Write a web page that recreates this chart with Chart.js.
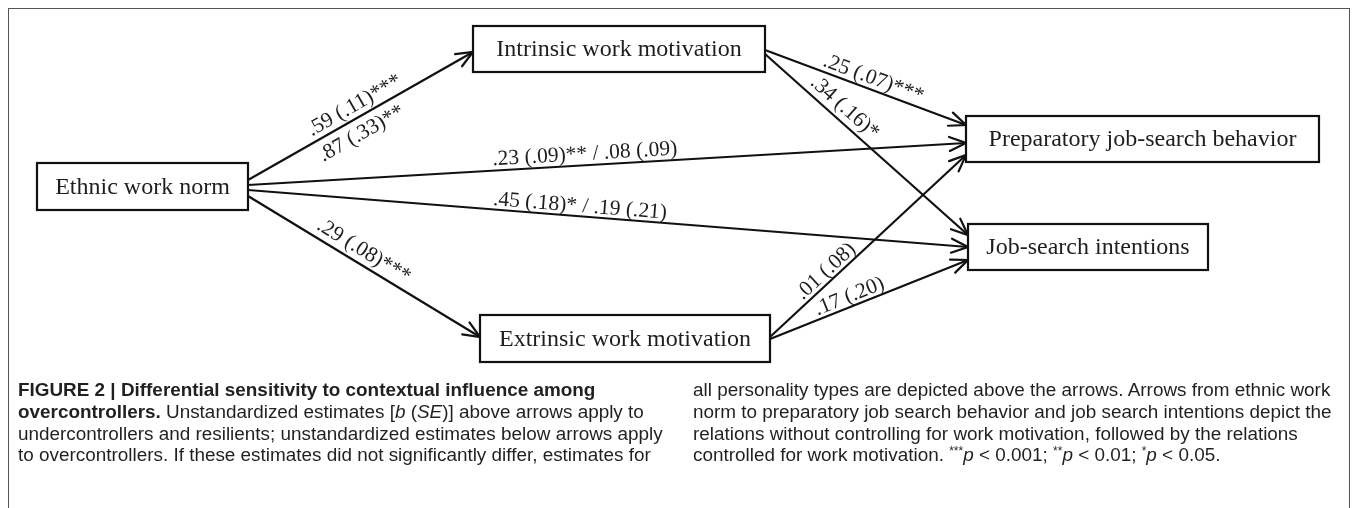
<!DOCTYPE html>
<html>
<head>
<meta charset="utf-8">
<script src="https://cdn.jsdelivr.net/npm/chart.js@4.4.1/dist/chart.umd.min.js"></script>
<style>
 body { margin: 0; background: #fff; }
 #wrap { position: relative; width: 1355px; height: 508px; overflow: hidden; }
 #frame { position: absolute; left: 8px; top: 8px; width: 1340px; height: 520px;
  border: 1.5px solid #555; border-bottom: none; }
 #diagram { position: absolute; left: 0; top: 0; }
 .cap { position: absolute; top: 379px; font-family: "Liberation Sans", Arial, sans-serif;
  font-size: 18.9px; line-height: 21.8px; color: #231f20; white-space: nowrap; }
 .cap b { font-weight: bold; }
 .cap sup { font-size: 12px; vertical-align: 6px; line-height: 0; }
</style>
</head>
<body>
<div id="wrap">
 <div id="frame"></div>
 <canvas id="diagram" width="1355" height="508"></canvas>
 <div class="cap" style="left:18px">
  <b>FIGURE 2 | Differential sensitivity to contextual influence among</b><br>
  <b>overcontrollers.</b> Unstandardized estimates [<i>b</i> (<i>SE</i>)] above arrows apply to<br>
  undercontrollers and resilients; unstandardized estimates below arrows apply<br>
  to overcontrollers. If these estimates did not significantly differ, estimates for
 </div>
 <div class="cap" style="left:693px">
  all personality types are depicted above the arrows. Arrows from ethnic work<br>
  norm to preparatory job search behavior and job search intentions depict the<br>
  relations without controlling for work motivation, followed by the relations<br>
  controlled for work motivation. <sup>***</sup><i>p</i> &lt; 0.001; <sup>**</sup><i>p</i> &lt; 0.01; <sup>*</sup><i>p</i> &lt; 0.05.
 </div>
</div>
<script>
// model: variables and paths
var nodeNames = [
 "Ethnic work norm",
 "Intrinsic work motivation",
 "Extrinsic work motivation",
 "Preparatory job-search behavior",
 "Job-search intentions",
];
var pathFrom = [0, 0, 0, 0, 1, 1, 2, 2];
var pathTo = [1, 3, 4, 2, 3, 4, 3, 4];
// estimates b (SE), above = undercontrollers/resilients, below = overcontrollers
var estAbove = [
 ".59 (.11)***",
 ".23 (.09)** / .08 (.09)",
 ".45 (.18)* / .19 (.21)",
 ".29 (.08)***",
 ".25 (.07)***",
 ".34 (.16)*",
 ".01 (.08)",
 ".17 (.20)",
];
var estBelow = [".87 (.33)**", "", "", "", "", "", "", ""];

// layout (diagram units = pixels of the figure)
var layout = {
 box: [
  [37, 163, 248, 210],
  [473, 26, 765, 72],
  [480, 315, 770, 362],
  [966, 116, 1319, 162],
  [968, 224, 1208, 270],
 ],
 srcY: [180, 185, 190, 196, 50, 54, 337, 339],
 dstY: [52, 143, 247, 337, 125, 235, 155, 260],
 labelT: [0.5, 0.47, 0.46, 0.47, 0.52, 0.35, 0.32, 0.42],
 labelOff: [12, 11, 10, 13, 11, 13, 10, 10],
 belowT: 0.47,
 belowOff: -16,
};

var lineColor = "#111";
var textColor = "#1e1e1e";

function pathPoints(i) {
 var s = layout.box[pathFrom[i]];
 var d = layout.box[pathTo[i]];
 return [
  { x: s[2], y: layout.srcY[i] },
  { x: d[0], y: layout.dstY[i] },
 ];
}

var datasets = pathFrom.map(function (f, i) {
 return {
  label: nodeNames[f] + " -> " + nodeNames[pathTo[i]],
  data: pathPoints(i),
  showLine: true,
  borderColor: lineColor,
  borderWidth: 2.2,
  pointRadius: 0,
  fill: false,
 };
});

function drawLabel(ctx, text, p1, p2, t, off) {
 if (!text) return;
 var a = Math.atan2(p2.y - p1.y, p2.x - p1.x);
 var mx = p1.x + (p2.x - p1.x) * t + Math.sin(a) * off;
 var my = p1.y + (p2.y - p1.y) * t - Math.cos(a) * off;
 ctx.save();
 ctx.translate(mx, my);
 ctx.rotate(a);
 ctx.fillText(text, 0, 0);
 ctx.restore();
}

var diagramPlugin = {
 id: "diagram",
 afterDatasetsDraw: function (chart) {
  var ctx = chart.ctx;
  var xs = chart.scales.x;
  var ys = chart.scales.y;

  // arrow heads
  ctx.save();
  ctx.strokeStyle = lineColor;
  ctx.lineWidth = 2.2;
  ctx.lineCap = "round";
  chart.data.datasets.forEach(function (ds, i) {
   var pts = chart.getDatasetMeta(i).data;
   var p1 = pts[0], p2 = pts[1];
   var a = Math.atan2(p2.y - p1.y, p2.x - p1.x);
   var len = 18, spread = 0.4;
   ctx.beginPath();
   ctx.moveTo(p2.x - len * Math.cos(a - spread), p2.y - len * Math.sin(a - spread));
   ctx.lineTo(p2.x, p2.y);
   ctx.lineTo(p2.x - len * Math.cos(a + spread), p2.y - len * Math.sin(a + spread));
   ctx.stroke();
  });
  ctx.restore();

  // boxes
  ctx.save();
  layout.box.forEach(function (b, i) {
   var x1 = xs.getPixelForValue(b[0]);
   var y1 = ys.getPixelForValue(b[1]);
   var x2 = xs.getPixelForValue(b[2]);
   var y2 = ys.getPixelForValue(b[3]);
   ctx.fillStyle = "#fff";
   ctx.fillRect(x1, y1, x2 - x1, y2 - y1);
   ctx.strokeStyle = lineColor;
   ctx.lineWidth = 2.2;
   ctx.strokeRect(x1, y1, x2 - x1, y2 - y1);
   ctx.fillStyle = textColor;
   ctx.font = "24px 'Liberation Serif', 'Times New Roman', serif";
   ctx.textAlign = "center";
   ctx.textBaseline = "middle";
   ctx.fillText(nodeNames[i], (x1 + x2) / 2, (y1 + y2) / 2 + 1);
  });
  ctx.restore();

  // estimates along the arrows
  ctx.save();
  ctx.fillStyle = textColor;
  ctx.font = "21.5px 'Liberation Serif', 'Times New Roman', serif";
  ctx.textAlign = "center";
  ctx.textBaseline = "middle";
  chart.data.datasets.forEach(function (ds, i) {
   var pts = chart.getDatasetMeta(i).data;
   drawLabel(ctx, estAbove[i], pts[0], pts[1], layout.labelT[i], layout.labelOff[i]);
   drawLabel(ctx, estBelow[i], pts[0], pts[1], layout.belowT, layout.belowOff);
  });
  ctx.restore();
 },
};

new Chart(document.getElementById("diagram"), {
 type: "scatter",
 data: { datasets: datasets },
 options: {
  responsive: false,
  animation: false,
  devicePixelRatio: 1,
  layout: { padding: 0 },
  plugins: { legend: { display: false }, tooltip: { enabled: false } },
  scales: {
   x: { type: "linear", min: 0, max: 1355, display: false },
   y: { type: "linear", min: 0, max: 508, reverse: true, display: false },
  },
 },
 plugins: [diagramPlugin],
});
</script>
</body>
</html>
